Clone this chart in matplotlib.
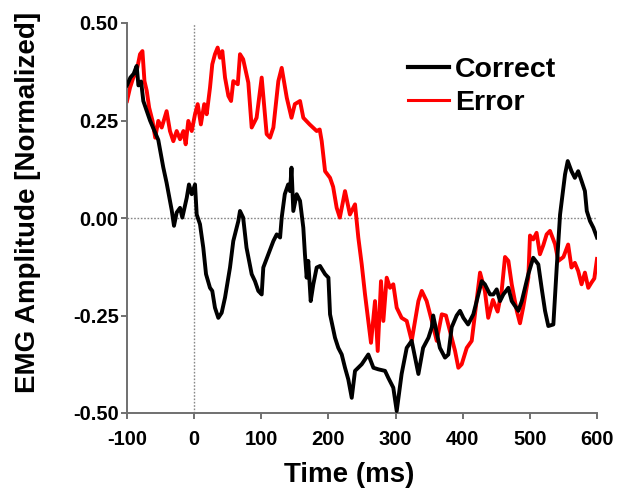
import matplotlib
matplotlib.use("Agg")
import matplotlib.pyplot as plt
from matplotlib.ticker import FormatStrFormatter

plt.rcParams['font.family'] = ['Liberation Sans', 'DejaVu Sans']
plt.rcParams['font.weight'] = 'bold'
plt.rcParams['axes.unicode_minus'] = False

# ---- data ----
correct_t = [-100, -95, -90, -85.6, -83, -79, -75.7, -65.7, -53.4, -46, -41, -33.4, -30, -26, -21,
             -17.6, -11, -7.7, -3.6, 1.3, 3.8, 8.7, 13.6, 17.7, 23.6, 27, 31, 36, 41, 46, 53.4,
             58.3, 65.8, 68.3, 73, 78, 85.7, 90.6, 95.6, 100.6, 103, 110.5, 118, 123, 128, 130.4,
             135, 140, 142.8, 145, 147.7, 152.7, 157.7, 162.6, 165, 167.6, 170, 173.6, 177.5,
             182.5, 187.5, 195, 200, 202.4, 209.8, 214.7, 219.8, 224.7, 229.6, 234.7, 239.6,
             249.6, 259.4, 267, 274.3, 284.3, 289.2, 296.6, 301.7, 309, 316.6, 324, 334, 341,
             349, 354, 356, 366, 373.6, 378.6, 383.6, 391, 396, 401, 408, 415.8, 420.8, 428.3,
             433, 440.7, 445.6, 450.6, 455.6, 460.5, 468, 473, 482.8, 488, 497.7, 505, 512.6,
             517.5, 522.6, 527.5, 535, 540, 545, 552.4, 556.4, 562, 567, 572, 577, 582, 584.8,
             589.6, 594.6, 600]
correct_v = [0.34, 0.36, 0.37, 0.39, 0.34, 0.35, 0.30, 0.25, 0.20, 0.13, 0.09, 0.02, -0.02, 0.014,
             0.026, 0.001, 0.052, 0.086, 0.061, 0.086, 0.009, -0.016, -0.076, -0.144, -0.179,
             -0.187, -0.23, -0.256, -0.243, -0.204, -0.127, -0.059, -0.008, 0.018, 0.001, -0.076,
             -0.144, -0.162, -0.187, -0.196, -0.127, -0.093, -0.059, -0.042, -0.05, 0.001, 0.061,
             0.086, 0.069, 0.129, 0.018, 0.061, 0.044, -0.025, -0.093, -0.153, -0.11, -0.213,
             -0.17, -0.127, -0.123, -0.144, -0.153, -0.247, -0.307, -0.333, -0.35, -0.384,
             -0.414, -0.461, -0.392, -0.375, -0.35, -0.384, -0.388, -0.392, -0.41, -0.435,
             -0.495, -0.40, -0.333, -0.315, -0.40, -0.333, -0.307, -0.28, -0.25, -0.333,
             -0.358, -0.35, -0.28, -0.25, -0.238, -0.256, -0.273, -0.247, -0.213, -0.162,
             -0.17, -0.196, -0.196, -0.183, -0.213, -0.196, -0.179, -0.213, -0.238, -0.213,
             -0.144, -0.102, -0.119, -0.179, -0.238, -0.277, -0.273, -0.127, 0.009, 0.112,
             0.146, 0.12, 0.103, 0.12, 0.095, 0.069, 0.018, -0.008, -0.025, -0.05]

error_t = [-100, -95.5, -90.6, -85.6, -80.6, -77, -74, -70.6, -67, -62, -58, -53.4, -48.3, -41,
           -36, -31, -26, -21, -16, -12.6, -8.7, -3.6, 1.3, 5.3, 10, 15, 18.7, 23.6, 27, 31, 35,
           38.5, 42, 46, 51, 55, 58.3, 65, 68.3, 73, 80.7, 85.7, 93, 100.6, 108, 113, 118, 125.4,
           130.4, 138, 145, 150, 157.7, 162.6, 172, 182.5, 187, 190, 195, 202.4, 207, 212.3,
           217, 224.7, 232, 239.6, 244.5, 249.6, 254.5, 259.4, 263.4, 269.4, 273.4, 278.3,
           281.8, 286.8, 291.7, 296.6, 301.7, 309, 316.6, 324, 334, 339, 346.3, 354, 361.3,
           368.8, 375, 381, 388.6, 393.5, 398.5, 406, 413.4, 420.8, 425.8, 433, 438, 445, 452,
           458, 463, 468, 473, 480.5, 485.3, 490, 497.7, 500.2, 505, 510, 515, 520, 525, 530,
           537.5, 542.4, 550, 557, 562, 567, 572, 577, 582, 587, 592, 596, 600]
error_v = [0.30, 0.334, 0.36, 0.377, 0.42, 0.428, 0.351, 0.326, 0.283, 0.249, 0.206, 0.249, 0.232,
           0.274, 0.223, 0.197, 0.223, 0.202, 0.223, 0.189, 0.249, 0.223, 0.266, 0.292, 0.24,
           0.292, 0.266, 0.334, 0.394, 0.42, 0.437, 0.411, 0.428, 0.36, 0.313, 0.30, 0.351,
           0.343, 0.42, 0.407, 0.347, 0.232, 0.257, 0.36, 0.215, 0.206, 0.232, 0.351, 0.385,
           0.308, 0.257, 0.292, 0.30, 0.257, 0.24, 0.223, 0.227, 0.197, 0.12, 0.103, 0.08,
           0.026, 0.001, 0.069, 0.009, 0.035, -0.05, -0.119, -0.196, -0.264, -0.32, -0.213,
           -0.341, -0.162, -0.264, -0.153, -0.179, -0.17, -0.23, -0.256, -0.264, -0.315,
           -0.213, -0.187, -0.213, -0.264, -0.315, -0.247, -0.25, -0.29, -0.341, -0.384,
           -0.375, -0.333, -0.315, -0.21, -0.14, -0.187, -0.256, -0.21, -0.24, -0.187, -0.1,
           -0.11, -0.17, -0.238, -0.27, -0.23, -0.153, -0.045, -0.055, -0.038, -0.093, -0.07,
           -0.042, -0.033, -0.067, -0.11, -0.1, -0.068, -0.127, -0.115, -0.136, -0.17, -0.14,
           -0.179, -0.165, -0.155, -0.105]

x_ticks = [-100, 0, 100, 200, 300, 400, 500, 600]
y_ticks = [-0.50, -0.25, 0.00, 0.25, 0.50]

# ---- figure ----
fig = plt.figure(figsize=(6.17, 4.96), dpi=100)
ax = fig.add_axes([127/617, 1-413/496, 470/617, 390/496])

ax.axhline(0, color='#888888', lw=1.0, ls=(0, (1.2, 1.2)), zorder=1)
ax.axvline(0, color='#888888', lw=1.0, ls=(0, (1.2, 1.2)), zorder=1)

ax.plot(correct_t, correct_v, color='black', lw=2.8, label='Correct', zorder=3,
        solid_joinstyle='round')
ax.plot(error_t, error_v, color='#ff0000', lw=2.8, label='Error', zorder=2,
        solid_joinstyle='round')

ax.set_xlim(-100, 600)
ax.set_ylim(-0.5, 0.5)
ax.set_xticks(x_ticks)
ax.set_yticks(y_ticks)
ax.yaxis.set_major_formatter(FormatStrFormatter('%.2f'))

for s in ['top', 'right']:
    ax.spines[s].set_visible(False)
for s in ['left', 'bottom']:
    ax.spines[s].set_color('#707070')
    ax.spines[s].set_linewidth(1.4)
ax.tick_params(direction='out', length=4, width=1.4, color='#707070',
               labelsize=14.5, pad=2)
ax.tick_params(axis='x', pad=8)
for lab in ax.get_xticklabels() + ax.get_yticklabels():
    lab.set_fontweight('bold')

ax.set_xlabel('Time (ms)', fontsize=20, fontweight='bold')
ax.xaxis.set_label_coords(0.472, -0.125)
ax.set_ylabel('EMG Amplitude [Normalized]', fontsize=20, fontweight='bold')
ax.yaxis.set_label_coords(-0.182, 0.54)

leg = ax.legend(loc='upper left', bbox_to_anchor=(0.598, 0.912), frameon=False,
                prop={'size': 20.5, 'weight': 'bold'}, handlelength=1.45,
                handletextpad=0.2, labelspacing=0.22, borderpad=0, borderaxespad=0)
leg.get_lines()[1].set_linewidth(2.2)
leg.get_lines()[0].set_linewidth(3.0)

fig.savefig('out.png', dpi=100)
